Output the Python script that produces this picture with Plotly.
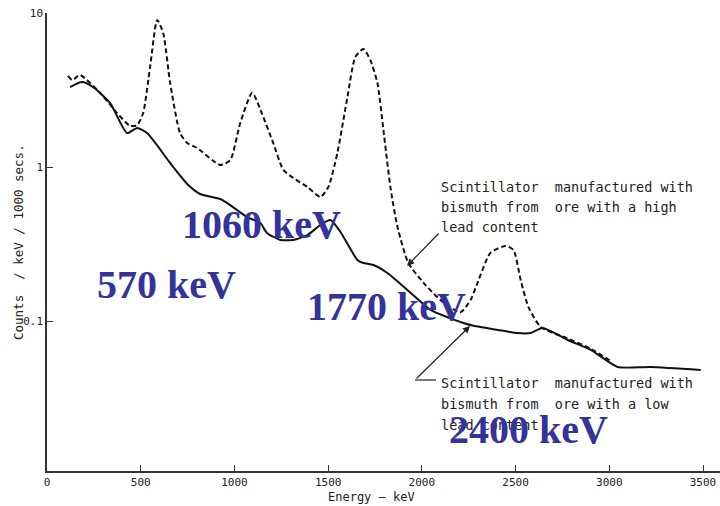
import math
import plotly.graph_objects as go

# ---- data ----
hi_energy = [112, 134, 176, 283, 374, 443, 481, 513, 550, 588, 620, 657, 710, 748, 801,
             924, 978, 1031, 1095, 1154, 1207, 1261, 1314, 1389, 1458, 1501, 1549, 1603,
             1645, 1688, 1725, 1763, 1795, 1832, 1870, 1928, 2009, 2099, 2206, 2260, 2297,
             2366, 2447, 2489, 2527, 2569, 2634, 2778, 2901, 3008]
hi_counts = [3.90, 3.67, 3.95, 3.03, 2.24, 1.85, 1.87, 2.24, 4.46, 9.02, 7.41, 3.51, 1.66,
             1.43, 1.33, 1.03, 1.11, 1.93, 3.03, 2.11, 1.43, 0.957, 0.849, 0.742, 0.639,
             0.742, 1.23, 2.85, 5.18, 5.84, 4.95, 3.51, 1.74, 0.742, 0.408, 0.238, 0.177,
             0.137, 0.114, 0.137, 0.177, 0.277, 0.307, 0.289, 0.185, 0.123, 0.0915, 0.077,
             0.066, 0.055]

lo_energy = [123, 187, 246, 337, 427, 481, 534, 641, 673, 748, 817, 924, 962, 1068,
             1138, 1175, 1245, 1314, 1389, 1458, 1512, 1565, 1656, 1688, 1741, 1816, 1923,
             2046, 2153, 2222, 2276, 2404, 2511, 2580, 2644, 2778, 2901, 3045, 3221, 3488]
lo_counts = [3.30, 3.56, 3.30, 2.60, 1.66, 1.79, 1.66, 1.127, 1.0, 0.776, 0.668,
             0.620, 0.583, 0.473, 0.433, 0.372, 0.336, 0.336, 0.361, 0.420, 0.453, 0.380,
             0.249, 0.238, 0.231, 0.205, 0.159, 0.118, 0.104, 0.097, 0.093, 0.0875, 0.0835,
             0.0835, 0.0901, 0.0753, 0.0649, 0.0503, 0.0503, 0.0481]

x_ticks = [0, 500, 1000, 1500, 2000, 2500, 3000, 3500]
y_ticks = [0.1, 1, 10]
y_tick_text = ["0.1", "1", "10"]

peak_labels = ["570 keV", "1060 keV", "1770 keV", "2400 keV"]

# ---- layout geometry ----
W, H = 720, 506
ML, MR, MT, MB = 47, 0, 13, 35
PW, PH = W - ML - MR, H - MT - MB


def px(x):
    return (x - ML) / PW


def py(y):
    return (H - MB - y) / PH


fig = go.Figure()
fig.add_trace(go.Scatter(x=hi_energy, y=hi_counts, mode="lines",
                         line=dict(color="#111111", width=2, dash="5px,3px",
                                   shape="spline", smoothing=0.6),
                         showlegend=False, hoverinfo="skip"))
fig.add_trace(go.Scatter(x=lo_energy, y=lo_counts, mode="lines",
                         line=dict(color="#111111", width=2,
                                   shape="spline", smoothing=0.6),
                         showlegend=False, hoverinfo="skip"))

mono = "DejaVu Sans Mono"
ann = []
# axis titles
ann.append(dict(x=px(18), y=0.5, xref="paper", yref="paper", text="Counts  / keV / 1000 secs.",
                textangle=-90, showarrow=False, xanchor="center", yanchor="middle",
                font=dict(family=mono, size=12.5, color="#222")))
ann.append(dict(x=px(371), y=py(497), xref="paper", yref="paper", text="Energy – keV",
                showarrow=False, xanchor="center", yanchor="middle",
                font=dict(family=mono, size=12, color="#222")))

# descriptive text blocks
upper = ["Scintillator  manufactured with", "bismuth from  ore with a high", "lead content"]
lower = ["Scintillator  manufactured with", "bismuth from  ore with a low", "lead content"]
for i, t in enumerate(upper):
    ann.append(dict(x=px(439), y=py(187 + 20 * i), xref="paper", yref="paper", text=t,
                    showarrow=False, xanchor="left", yanchor="middle",
                    font=dict(family=mono, size=13.5, color="#222")))
for i, t in enumerate(lower):
    ann.append(dict(x=px(439), y=py(383 + 21 * i), xref="paper", yref="paper", text=t,
                    showarrow=False, xanchor="left", yanchor="middle",
                    font=dict(family=mono, size=13.5, color="#222")))

# arrows
ann.append(dict(x=1921, y=math.log10(0.2275), xref="x", yref="y", ax=33, ay=-34,
                showarrow=True, arrowhead=2, arrowsize=1.2, arrowwidth=1.2,
                arrowcolor="#222", text=""))
ann.append(dict(x=2257, y=math.log10(0.0929), xref="x", yref="y", ax=-55, ay=54,
                showarrow=True, arrowhead=2, arrowsize=1.2, arrowwidth=1.2,
                arrowcolor="#222", text=""))

# blue peak labels
label_pos = [(95, 284), (180, 224), (305, 306), (447, 429)]
for t, (lx, ly) in zip(peak_labels, label_pos):
    ann.append(dict(x=px(lx), y=py(ly), xref="paper", yref="paper", text="<b>%s</b>" % t,
                    showarrow=False, xanchor="left", yanchor="middle",
                    font=dict(family="Liberation Serif", size=40, color="#333399")))

fig.update_layout(
    width=W, height=H,
    margin=dict(l=ML, r=MR, t=MT, b=MB, pad=0),
    paper_bgcolor="white", plot_bgcolor="white",
    annotations=ann,
    shapes=[dict(type="line", xref="paper", yref="paper",
                 x0=px(415), x1=px(436), y0=py(380), y1=py(380),
                 line=dict(color="#222", width=1.2))],
    xaxis=dict(range=[0, PW / ((703 - 47) / 3500)], tickvals=x_ticks,
               ticks="inside", ticklen=6, tickcolor="#333", showgrid=False,
               zeroline=False, showline=True, linecolor="#333", linewidth=1.5,
               tickfont=dict(family=mono, size=11, color="#222")),
    yaxis=dict(type="log", range=[1 - PH / 154.0, 1], tickvals=y_ticks,
               ticktext=y_tick_text, ticks="inside", ticklen=6, tickcolor="#333",
               showgrid=False, zeroline=False, showline=True, linecolor="#333",
               linewidth=1.5, tickfont=dict(family=mono, size=11, color="#222")),
)

fig.write_html("out.html")
